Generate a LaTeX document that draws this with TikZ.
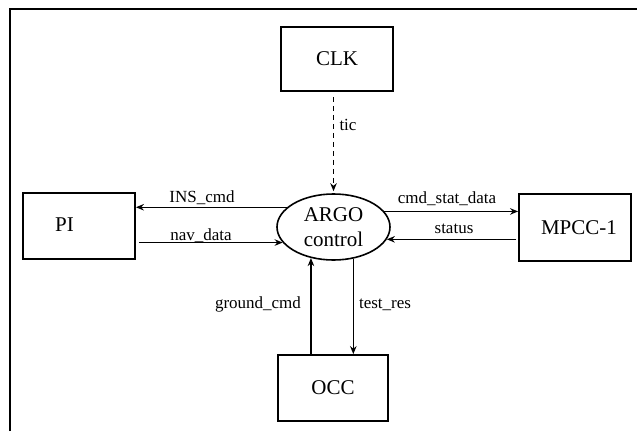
\documentclass[tikz,border=0pt]{standalone}
\usepackage{fontspec}
\setmainfont{Liberation Serif}
\usetikzlibrary{shapes.geometric,arrows.meta}
\begin{document}
\begin{tikzpicture}[x=1pt,y=-1pt,
  box/.style={draw,line width=1.8pt,minimum width=112pt,minimum height=66pt,inner sep=0pt,font=\fontsize{21}{25}\selectfont},
  big/.style={font=\fontsize{21}{25}\selectfont,inner sep=0pt},
  lab/.style={font=\fontsize{17}{20}\selectfont,inner sep=0pt,anchor=base},
  arr/.style={line width=1.5pt,-{Stealth[length=8pt,width=6.5pt]}},
  frame/.style={line width=1.5pt}]
\useasboundingbox (0,0) rectangle (637,431);
\coordinate (fb) at (10,431);
\coordinate (fc) at (10,9);
\coordinate (fr) at (637,9);
\draw[frame] (fb) -- (fc) -- (fr);

\node[box,minimum height=64pt] (clk) at (337,59) {CLK};
\node[box] (pi) at (79,226) {};
\node[big] (pitext) at (64.5,225) {PI};
\node[box,minimum height=67pt] (mpcc) at (575,227.5) {\hspace*{8pt}MPCC-1};
\node[box,minimum width=110pt] (occ) at (333,388) {OCC};
\node[draw,ellipse,line width=1.6pt,minimum width=113pt,minimum height=66pt,inner sep=0pt,align=center,big] (argo) at (333.5,227) {ARGO\\control};

% tic
\draw[line width=1.5pt,dash pattern=on 5pt off 4pt,-{Stealth[length=8pt,width=6.5pt]},shorten <=5pt,shorten >=2pt] (clk.south -| argo.north) -- (argo.north);
\node[lab] (tic) at (348,130) {tic};

% PI
\draw[arr] (argo.157.6) -- (argo.157.6 -| pi.east);
\node[lab] (ins) at (202,202) {INS\_cmd};
\draw[arr,shorten <=3pt] (argo.197.9 -| pi.east) -- (argo.197.9);
\node[lab] (nav) at (201,240) {nav\_data};

% MPCC
\draw[arr] (argo.17.9) -- (argo.17.9 -| mpcc.west);
\node[lab] (csd) at (447,203) {cmd\_stat\_data};
\draw[arr,shorten <=2pt] (argo.347 -| mpcc.west) -- (argo.347);
\node[lab] (status) at (454,233) {status};

% OCC
\draw[arr] (argo.234.8 |- occ.north) -- (argo.234.8);
\node[lab] (gc) at (258,308) {ground\_cmd};
\draw[arr] (argo.302.2) -- (argo.302.2 |- occ.north);
\node[lab] (tr) at (385,308) {test\_res};
\end{tikzpicture}
\end{document}
